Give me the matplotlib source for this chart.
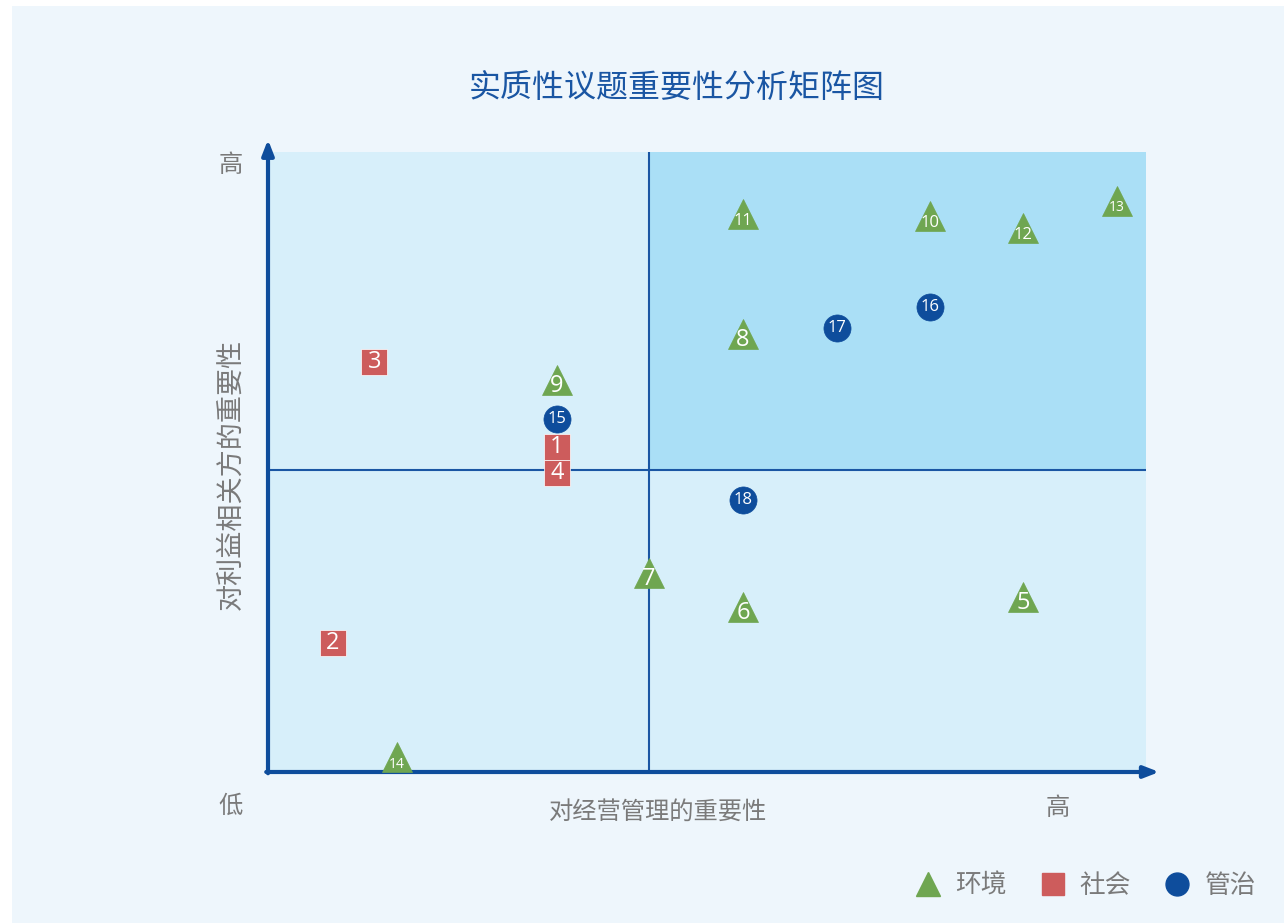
import matplotlib
matplotlib.use('Agg')
import matplotlib.pyplot as plt
from matplotlib.patches import Rectangle
from matplotlib.lines import Line2D

plt.rcParams['font.family'] = ['Noto Sans CJK SC', 'DejaVu Sans']

# issue data: id, category, importance to management (x), importance to stakeholders (y)
ids = [1, 2, 3, 4, 5, 6, 7, 8, 9, 10, 11, 12, 13, 14, 15, 16, 17, 18]
cats = ['社会', '社会', '社会', '社会',
        '环境', '环境', '环境', '环境', '环境', '环境', '环境', '环境', '环境', '环境',
        '管治', '管治', '管治', '管治']
x_vals = [3.29, 0.74, 1.21, 3.29, 8.60, 5.41, 4.34, 5.41, 3.29, 7.54, 5.41, 8.60, 9.67, 1.47,
          3.29, 7.54, 6.48, 5.41]
y_vals = [5.24, 2.08, 6.61, 4.82, 2.82, 2.66, 3.21, 7.06, 6.32, 8.97, 9.00, 8.77, 9.21, 0.24,
          5.69, 7.50, 7.16, 4.39]
x_split = 4.34
y_split = 4.87

title = '实质性议题重要性分析矩阵图'
x_label = '对经营管理的重要性'
y_label = '对利益相关方的重要性'

# styles
cat_style = {
    '环境': dict(marker='^', color='#6fa651', size=21.6),
    '社会': dict(marker='s', color='#cd5c5c', size=19.0),
    '管治': dict(marker='o', color='#0e4d9c', size=19.5),
}
label_size = {13: 10, 14: 10}
blue = '#0e4d9c'
gray = '#7a7a7a'

W, H = 1284, 923
fig = plt.figure(figsize=(W / 100, H / 100), dpi=100)
fig.patch.set_facecolor('white')
fig.patches.append(Rectangle((12 / W, 0), 1 - 12 / W, 1 - 6 / H, transform=fig.transFigure,
                             facecolor='#eef6fc', edgecolor='none', zorder=-10))

ax = fig.add_axes([268 / W, (H - 772) / H, 878 / W, 620 / H])
ax.set_xlim(0, 10)
ax.set_ylim(0, 10)
ax.set_facecolor('#d7effa')
ax.add_patch(Rectangle((x_split, y_split), 10 - x_split, 10 - y_split,
                       facecolor='#aadff6', edgecolor='none', zorder=0))
for s in ax.spines.values():
    s.set_visible(False)
ax.set_xticks([])
ax.set_yticks([])

# quadrant dividers
ax.axvline(x_split, color='#1a56a3', lw=1.5, zorder=1)
ax.axhline(y_split, color='#1a56a3', lw=1.5, zorder=1)

# axes with arrows
ax.annotate('', xy=(0, 10.2), xytext=(0, -0.02), annotation_clip=False,
            arrowprops=dict(arrowstyle='-|>,head_length=0.9,head_width=0.35', color=blue, lw=3,
                            shrinkA=0, shrinkB=0))
ax.annotate('', xy=(10.15, 0), xytext=(-0.02, 0), annotation_clip=False,
            arrowprops=dict(arrowstyle='-|>,head_length=0.9,head_width=0.35', color=blue, lw=3,
                            shrinkA=0, shrinkB=0))

# points
for i, c, xv, yv in zip(ids, cats, x_vals, y_vals):
    st = cat_style[c]
    ax.plot(xv, yv, marker=st['marker'], ms=st['size'], color=st['color'], mec='white' if c == '社会' else st['color'],
            mew=0.5, ls='none', zorder=3, clip_on=False)
    fs = label_size.get(i, 17 if i < 10 else 12)
    dy = -4 if c == '环境' else 0
    if c == '环境' and i >= 10:
        dy = -5
    ax.annotate(str(i), (xv, yv), xytext=(0, dy), textcoords='offset points', ha='center', va='center',
                color='white', fontsize=fs, zorder=4, family=['Open Sans', 'DejaVu Sans'])

# texts
fig.text(677 / W, 1 - 88 / H, title, ha='center', va='center', fontsize=23, color='#1a56a3')
fig.text(658 / W, 1 - 812 / H, x_label, ha='center', va='center', fontsize=17.5, color=gray)
fig.text(231 / W, 1 - 474 / H, y_label, ha='center', va='center', fontsize=19.5, color=gray, rotation=90)
fig.text(231 / W, 1 - 165 / H, '高', ha='center', va='center', fontsize=17.5, color=gray)
fig.text(231 / W, 1 - 806 / H, '低', ha='center', va='center', fontsize=17.5, color=gray)
fig.text(1058 / W, 1 - 808 / H, '高', ha='center', va='center', fontsize=17.5, color=gray)

# legend
handles = [Line2D([], [], marker=cat_style[c]['marker'], color=cat_style[c]['color'], ls='none',
                  ms=17 if c == '环境' else 16.5) for c in ['环境', '社会', '管治']]
leg = fig.legend(handles, ['环境', '社会', '管治'], loc='center right', bbox_to_anchor=(1279 / W, 1 - 886 / H),
                 ncol=3, frameon=False, fontsize=18.5, handletextpad=0.45, columnspacing=1.2,
                 handlelength=1.2)
for t in leg.get_texts():
    t.set_color(gray)

fig.savefig('out.png', dpi=100, facecolor=fig.get_facecolor())
